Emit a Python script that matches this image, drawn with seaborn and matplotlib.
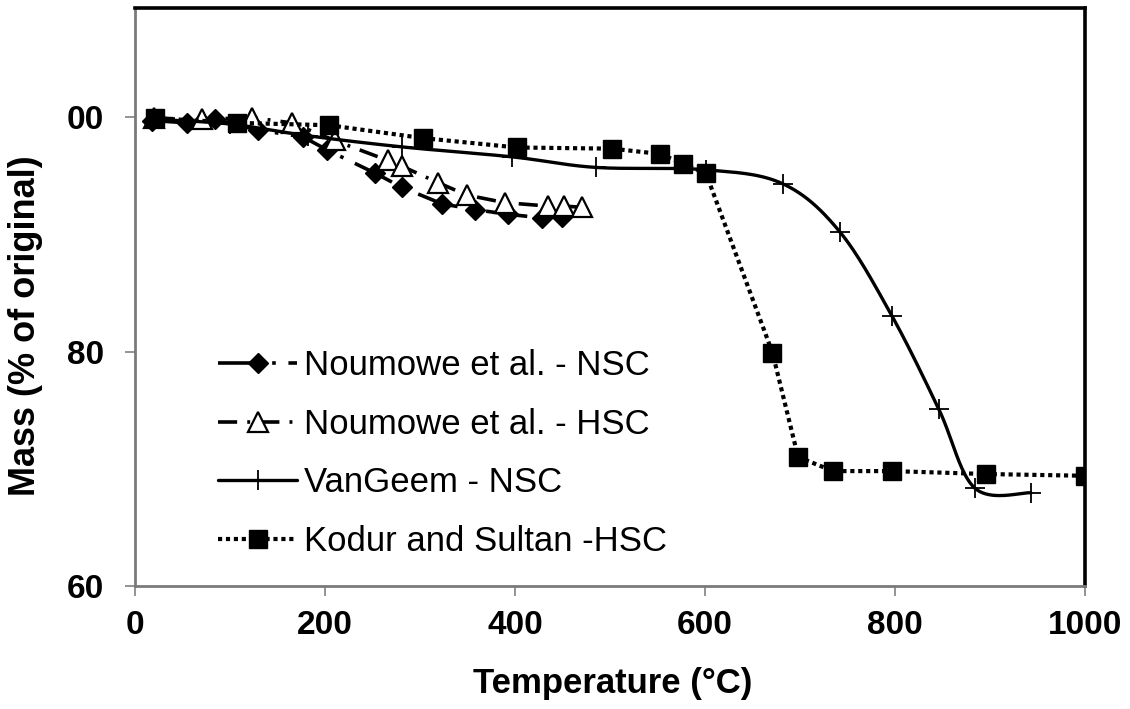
import numpy as np
import matplotlib
matplotlib.use("Agg")
import matplotlib.pyplot as plt
import seaborn as sns
from matplotlib.lines import Line2D

# ---------------- data ----------------
nsc_T = [18, 55, 84, 129, 177, 202, 253, 281, 323, 358, 393, 428, 449]
nsc_m = [99.7, 99.5, 99.8, 98.9, 98.3, 97.2, 95.2, 94.0, 92.6, 92.1, 91.7, 91.4, 91.5]

hsc_T = [20, 70, 123, 165, 210, 266, 281, 319, 349, 389, 435, 452, 470]
hsc_m = [99.9, 99.8, 99.95, 99.5, 98.0, 96.3, 95.8, 94.4, 93.35, 92.7, 92.4, 92.4, 92.3]

vg_T = [21, 100, 182, 281, 397, 485, 601, 682, 742, 797, 846, 884, 943]
vg_m = [99.8, 99.4, 98.4, 97.45, 96.6, 95.7, 95.5, 94.3, 90.2, 83.0, 75.1, 68.35, 67.95]

ks_T = [21, 107, 204, 303, 402, 502, 553, 577, 601, 671, 698, 735, 797, 896, 1000]
ks_m = [99.9, 99.5, 99.3, 98.2, 97.4, 97.3, 96.85, 96.0, 95.2, 79.9, 71.0, 69.8, 69.8, 69.55, 69.4]

labels = ["Noumowe et al. - NSC", "Noumowe et al. - HSC", "VanGeem - NSC", "Kodur and Sultan -HSC"]
x_ticks = [0, 200, 400, 600, 800, 1000]
y_ticks = [60, 80, 100]
y_ticklabels = ["60", "80", "00"]


def excel_smooth(xs, ys, sx, sy, n=40):
    P = np.column_stack([np.asarray(xs, float) * sx, np.asarray(ys, float) * sy])
    out = []
    for i in range(len(P) - 1):
        p0 = P[i - 1] if i > 0 else P[i]
        p1, p2 = P[i], P[i + 1]
        p3 = P[i + 2] if i + 2 < len(P) else P[i + 1]
        c1 = p1 + (p2 - p0) / 6.0
        c2 = p2 - (p3 - p1) / 6.0
        t = np.linspace(0, 1, n)[:, None]
        seg = (1 - t) ** 3 * p1 + 3 * (1 - t) ** 2 * t * c1 + 3 * (1 - t) * t ** 2 * c2 + t ** 3 * p2
        out.append(seg if i == 0 else seg[1:])
    out = np.vstack(out)
    return out[:, 0] / sx, out[:, 1] / sy


sns.set_theme(style="white")
plt.rcParams['font.family'] = ['Liberation Sans', 'DejaVu Sans']

W, H = 1130, 709
fig = plt.figure(figsize=(W / 100, H / 100), dpi=100)
L, R, T, B = 135, 1085, 8, 586
ax = fig.add_axes([L / W, 1 - B / H, (R - L) / W, (B - T) / H])

ymax = 60 + (B - T) / 11.725
ax.set_xlim(0, 1000)
ax.set_ylim(60, ymax)

nsc_style = dict(color="black", lw=2.6, linestyle=(0, (11.5, 3.5, 1, 3.5)), marker="D", markersize=10,
                 markerfacecolor="black", markeredgecolor="black", markeredgewidth=1)
hsc_style = dict(color="black", lw=2.6, linestyle=(0, (5.3, 2.8, 0.8, 2.8)), marker="^", markersize=14,
                 markerfacecolor="white", markeredgecolor="black", markeredgewidth=1.6)
ks_style = dict(color="black", lw=3.0, linestyle=(0, (1, 0.9)), marker="s", markersize=13.5,
                markerfacecolor="black", markeredgecolor="black", markeredgewidth=1)

sns.lineplot(x=nsc_T, y=nsc_m, ax=ax, sort=False, estimator=None, **nsc_style)
sns.lineplot(x=hsc_T, y=hsc_m, ax=ax, sort=False, estimator=None, **hsc_style)

sx, sy = 0.95, 11.725
vx, vy = excel_smooth(vg_T, vg_m, sx, sy)
sns.lineplot(x=vx, y=vy, ax=ax, sort=False, estimator=None, color="black", lw=2.4)
sns.lineplot(x=vg_T, y=vg_m, ax=ax, sort=False, estimator=None, color="black", linestyle="none",
             marker="+", markersize=14, markeredgecolor="black", markeredgewidth=1.3)

sns.lineplot(x=ks_T, y=ks_m, ax=ax, sort=False, estimator=None, **ks_style)

# legend
handles = [
    Line2D([], [], **nsc_style),
    Line2D([], [], **hsc_style),
    Line2D([], [], color="black", lw=2.4, marker="+", markersize=14, markeredgewidth=1.3),
    Line2D([], [], **ks_style),
]
leg = ax.legend(handles, labels, loc="upper left", bbox_to_anchor=((218 - L) / (R - L), (B - 349) / (B - T)),
                frameon=False, fontsize=25, handlelength=2.28, handletextpad=0.2, labelspacing=0.74,
                borderpad=0, borderaxespad=0, numpoints=1)
for t in leg.get_texts():
    t.set_color("black")

# axes styling
ax.set_xticks(x_ticks)
ax.set_xticklabels([str(v) for v in x_ticks])
ax.set_yticks(y_ticks)
ax.set_yticklabels(y_ticklabels)
for lab in ax.get_xticklabels() + ax.get_yticklabels():
    lab.set_fontweight("bold")
    lab.set_fontsize(24)
    lab.set_color("black")
ax.tick_params(axis="both", direction="out", length=7.5, width=1.2, color="#808080", bottom=True, left=True)
ax.tick_params(axis="x", pad=10)
ax.tick_params(axis="y", pad=15)

ax.set_xlabel("Temperature (°C)", fontsize=25, fontweight="bold", color="black")
ax.set_ylabel("Mass (% of original)", fontsize=26, fontweight="bold", color="black")
ax.xaxis.label.set_va("center")
ax.yaxis.label.set_va("center")
ax.xaxis.set_label_coords(0.503, (B - 684) / (B - T))
ax.yaxis.set_label_coords((26 - L) / (R - L), (B - 326) / (B - T))

for side in ["left", "bottom"]:
    ax.spines[side].set_color("#7a7a7a")
    ax.spines[side].set_linewidth(2)
for side in ["top", "right"]:
    ax.spines[side].set_color("black")
    ax.spines[side].set_linewidth(2.6)
ax.grid(False)
ax.set_facecolor("white")
fig.patch.set_facecolor("white")

fig.savefig("out.png", dpi=100, facecolor="white")
